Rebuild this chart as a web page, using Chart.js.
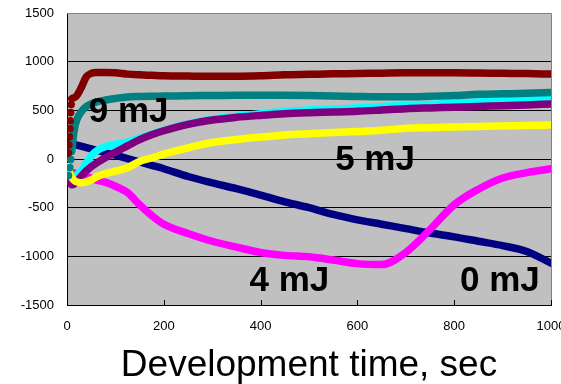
<!DOCTYPE html>
<html>
<head>
<meta charset="utf-8">
<script src="https://cdn.jsdelivr.net/npm/chart.js@4"></script>
<style>
  html, body { margin: 0; padding: 0; background: #fff; }
  #wrap { width: 561px; height: 384px; position: relative; }
</style>
</head>
<body>
<div id="wrap"><canvas id="chart"></canvas></div>
<script>
// development time, sec (shared sampling)
const times = [3, 6, 10, 15, 20, 30, 40, 50, 60, 80, 100, 125, 150, 175, 200, 250, 300, 350, 400, 450, 500, 550, 600, 650, 700, 750, 800, 850, 900, 950, 1000];

const darkRed = [60, 320, 620, 630, 650, 740, 845, 880, 888, 888, 885, 872, 865, 860, 855, 852, 850, 850, 855, 865, 870, 875, 878, 882, 885, 885, 885, 883, 880, 878, 872];
const teal = [-170, -80, 100, 300, 400, 490, 540, 565, 585, 606, 622, 638, 642, 645, 646, 650, 652, 655, 656, 655, 652, 648, 643, 640, 640, 645, 652, 665, 670, 675, 682];
const cyan = [-150, -190, -200, -185, -165, -120, -40, 30, 80, 128, 150, 175, 215, 255, 295, 360, 408, 440, 466, 488, 503, 514, 525, 538, 550, 560, 572, 586, 602, 620, 640];
const purple = [-150, -230, -265, -255, -230, -175, -120, -80, -45, 15, 70, 135, 200, 250, 290, 355, 400, 428, 448, 465, 475, 482, 490, 503, 517, 525, 532, 540, 548, 556, 565];
const yellow = [-80, -150, -190, -220, -235, -245, -235, -215, -185, -150, -125, -90, -25, 10, 50, 115, 170, 200, 225, 247, 260, 272, 283, 295, 315, 322, 328, 335, 340, 345, 350];
const navy = [165, 162, 157, 150, 143, 130, 117, 104, 91, 65, 39, 5, -30, -65, -100, -180, -245, -305, -370, -440, -500, -570, -625, -670, -715, -760, -800, -845, -890, -950, -1070];
const magenta = [-110, -125, -135, -145, -155, -175, -185, -195, -215, -240, -280, -345, -470, -580, -670, -765, -845, -905, -960, -990, -1005, -1038, -1075, -1085, -960, -725, -470, -310, -195, -140, -100];

const xTicks = [0, 200, 400, 600, 800, 1000];
const yTicks = [-1500, -1000, -500, 0, 500, 1000, 1500];

const energyLabels = ['9 mJ', '5 mJ', '4 mJ', '0 mJ'];

function pts(vals) {
    return times.map((t, i) => ({ x: t, y: vals[i] }));
}

function series(label, vals, color, order, dotted) {
    return {
        label: label,
        data: pts(vals),
        borderColor: color,
        backgroundColor: color,
        borderWidth: 7.5,
        borderCapStyle: 'round',
        borderJoinStyle: 'round',
        pointRadius: 0,
        cubicInterpolationMode: 'monotone',
        order: order,
        segment: dotted ? {
            borderDash: ctx => ctx.p1.parsed.x <= 10 ? [0.1, 8] : undefined
        } : undefined,
    };
}

const FONT = '"Liberation Sans", Arial, sans-serif';

const plotDecor = {
    id: 'plotDecor',
    beforeDraw(chart) {
        const { ctx, chartArea: a } = chart;
        ctx.save();
        ctx.fillStyle = '#c0c0c0';
        ctx.fillRect(a.left, a.top, a.right - a.left, a.bottom - a.top);
        ctx.restore();
    },
    afterDraw(chart) {
        const { ctx, chartArea: a, scales } = chart;
        ctx.save();
        // grey frame top/right
        ctx.strokeStyle = '#808080';
        ctx.lineWidth = 1;
        ctx.beginPath();
        ctx.moveTo(a.left, a.top + 0.5);
        ctx.lineTo(a.right + 0.5, a.top + 0.5);
        ctx.lineTo(a.right + 0.5, a.bottom);
        ctx.stroke();
        // small inward x tick marks
        ctx.strokeStyle = '#000';
        ctx.beginPath();
        xTicks.forEach(v => {
            const px = Math.round(scales.x.getPixelForValue(v)) + 0.5;
            ctx.moveTo(px, a.bottom);
            ctx.lineTo(px, a.bottom - 5);
        });
        ctx.stroke();
        // energy labels
        const spots = [[45, 383], [554, -113], [377, -1355], [812, -1355]];
        ctx.fillStyle = '#000';
        ctx.font = 'bold 35px ' + FONT;
        ctx.textAlign = 'left';
        ctx.textBaseline = 'alphabetic';
        energyLabels.forEach((txt, i) => {
            ctx.fillText(txt, scales.x.getPixelForValue(spots[i][0]), scales.y.getPixelForValue(spots[i][1]));
        });
        ctx.restore();
    }
};

new Chart(document.getElementById('chart').getContext('2d'), {
    type: 'line',
    data: {
        datasets: [
            series('darkred', darkRed, '#800000', 1, true),
            series('teal', teal, '#008080', 2, true),
            series('yellow', yellow, '#ffff00', 3, false),
            series('purple', purple, '#800080', 4, false),
            series('cyan', cyan, '#00ffff', 5, false),
            series('magenta', magenta, '#ff00ff', 6, false),
            series('navy', navy, '#000080', 7, false),
        ],
    },
    options: {
        responsive: true,
        maintainAspectRatio: false,
        animation: false,
        layout: { padding: { top: 13, right: 10, left: 0, bottom: 0 } },
        plugins: { legend: { display: false }, tooltip: { enabled: false } },
        scales: {
            x: {
                type: 'linear',
                min: 0,
                max: 1000,
                afterBuildTicks: s => { s.ticks = xTicks.map(v => ({ value: v })); },
                afterFit: s => { s.height = 79; s.paddingLeft = 0; s.paddingRight = 0; },
                grid: { display: false, drawTicks: false },
                border: { display: true, color: '#000', width: 1 },
                ticks: {
                    padding: 14,
                    color: '#000',
                    font: { family: FONT, size: 13 },
                    maxRotation: 0,
                    callback: v => String(v),
                },
                title: {
                    display: true,
                    text: 'Development time, sec',
                    color: '#000',
                    font: { family: FONT, size: 37, lineHeight: 1 },
                    padding: { top: 0, bottom: 0 },
                },
            },
            y: {
                min: -1500,
                max: 1500,
                afterBuildTicks: s => { s.ticks = yTicks.map(v => ({ value: v })); },
                afterFit: s => { s.width = 67; s.paddingTop = 0; s.paddingBottom = 0; },
                grid: {
                    drawTicks: false,
                    color: c => (c.tick && Math.abs(c.tick.value) === 1500) ? 'rgba(0,0,0,0)' : '#000',
                    lineWidth: 1,
                },
                border: { display: true, color: '#000', width: 1 },
                ticks: {
                    padding: 13,
                    color: '#000',
                    font: { family: FONT, size: 13 },
                    callback: v => String(v),
                },
            },
        },
    },
    plugins: [plotDecor],
});
</script>
</body>
</html>
